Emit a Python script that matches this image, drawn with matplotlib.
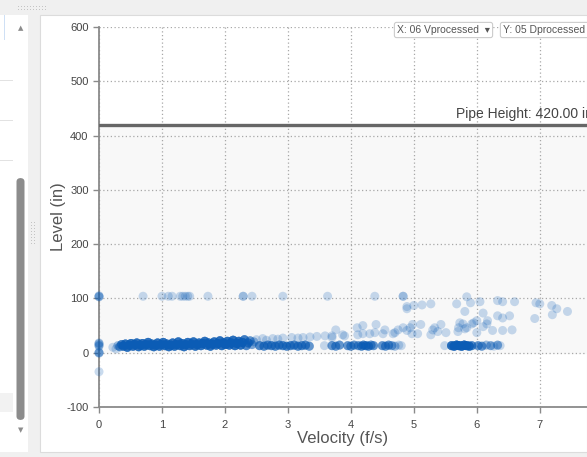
import matplotlib
matplotlib.use("Agg")
import matplotlib.pyplot as plt
from matplotlib.patches import Rectangle, FancyBboxPatch
import numpy as np

plt.rcParams['font.family'] = ['Liberation Sans', 'DejaVu Sans']
plt.rcParams['axes.unicode_minus'] = False

# readings stuck at zero velocity
edge_vel = [0.0, 0.0, 0.0, 0.0, 0.0, 0.0, 0.0, 0.0, 0.0, 0.0, 0.0, 0.0, 0.0, 0.0, 0.0]
edge_lvl = [103, 103, 105, 104, 17, 16, 18, 13, 12, 14, 0, 1, -1, 0, -35]

# main low-flow band (many repeated readings)
band_vel = [0.22, 0.27, 0.30, 0.33, 0.36, 0.39, 0.42, 0.45, 0.48, 0.51, 0.54, 0.57,
            0.60, 0.63, 0.66, 0.69, 0.72, 0.75, 0.78, 0.81, 0.84, 0.87, 0.90, 0.93,
            0.96, 0.99, 1.02, 1.05, 1.08, 1.11, 1.14, 1.17, 1.20, 1.23, 1.26, 1.29,
            1.32, 1.35, 1.38, 1.41, 1.44, 1.47, 1.50, 1.53, 1.56, 1.59, 1.62, 1.65,
            1.68, 1.71, 1.74, 1.77, 1.80, 1.83, 1.86, 1.89, 1.92, 1.95, 1.98, 2.01,
            2.04, 2.07, 2.10, 2.13, 2.16, 2.19, 2.22, 2.25, 2.28, 2.31, 2.34, 2.37,
            2.40, 2.43, 2.46]
band_lvl = [10, 7, 13, 11, 15, 12, 16, 10, 14, 17, 12, 15,
            18, 11, 14, 17, 12, 15, 19, 13, 16, 11, 14, 18,
            12, 15, 19, 13, 16, 11, 14, 18, 12, 15, 20, 13,
            17, 11, 15, 19, 13, 16, 20, 12, 15, 18, 13, 17,
            21, 14, 18, 12, 16, 20, 14, 17, 22, 13, 18, 15,
            21, 14, 18, 23, 13, 17, 21, 14, 19, 24, 13, 18,
            22, 15, 20]
band_cnt = [1, 1, 2, 4, 6, 7, 8, 8, 8, 8, 8, 8,
            8, 8, 8, 8, 8, 8, 8, 8, 8, 8, 8, 8,
            8, 8, 8, 8, 8, 8, 8, 8, 8, 8, 8, 8,
            8, 8, 8, 8, 8, 8, 8, 8, 8, 8, 8, 8,
            8, 8, 8, 8, 8, 8, 8, 8, 8, 8, 8, 8,
            8, 8, 8, 8, 8, 8, 8, 8, 7, 6, 5, 5,
            4, 3, 2]

# lower row continuing to higher velocities
low_vel = [2.55, 2.62, 2.68, 2.74, 2.80, 2.86, 2.92, 2.98, 3.04, 3.10, 3.16, 3.22,
           3.28, 3.34, 3.58, 3.70, 3.76, 3.82, 3.95, 4.00, 4.05, 4.12, 4.17, 4.20,
           4.24, 4.28, 4.32, 4.36, 4.50, 4.55, 4.60, 4.65, 4.70, 4.76, 4.80, 5.49,
           5.60, 5.64, 5.68, 5.72, 5.76, 5.80, 5.84, 5.88, 5.92, 6.02, 6.08, 6.15,
           6.22, 6.27, 6.33, 6.37]
low_lvl = [13, 12, 14, 13, 12, 14, 13, 12, 13, 14, 12, 13,
           14, 12, 13, 13, 12, 14, 13, 12, 14, 13, 12, 14,
           13, 12, 14, 13, 13, 12, 14, 13, 12, 14, 13, 13,
           13, 12, 14, 13, 12, 14, 13, 12, 13, 13, 12, 14,
           13, 12, 14, 13]
low_cnt = [5, 5, 5, 5, 5, 5, 5, 5, 5, 5, 5, 5,
           5, 4, 1, 4, 4, 4, 4, 4, 4, 4, 5, 5,
           5, 5, 4, 4, 4, 4, 4, 3, 2, 1, 1, 1,
           8, 9, 10, 10, 10, 10, 9, 8, 5, 4, 4, 2,
           3, 1, 3, 1]

# rising upper row
mid_vel = [2.50, 2.60, 2.66, 2.76, 2.84, 2.92, 3.06, 3.16, 3.24, 3.35, 3.46, 3.59,
           3.70, 3.70, 3.76, 3.87, 3.90, 4.10, 4.11, 4.19, 4.19, 4.30, 4.38, 4.40,
           4.51, 4.54, 4.67, 4.70, 4.75, 4.83, 4.89, 4.94, 4.97, 4.98, 5.06, 5.11,
           5.27, 5.30, 5.33, 5.38, 5.43, 5.51, 5.70, 5.71, 5.73, 5.78, 5.81, 5.84,
           5.92, 5.95, 6.00, 6.00, 6.10, 6.16, 6.17, 6.25, 6.41, 6.56, 6.33, 6.41,
           6.52, 6.92, 7.20, 4.89, 4.89, 5.00, 5.13, 5.27, 5.68, 5.81, 5.90, 6.05,
           6.10, 6.33, 6.41, 6.60, 6.94, 7.00, 7.19, 7.27, 7.44]
mid_lvl = [24, 26, 23, 26, 25, 27, 28, 27, 28, 29, 30, 31,
           31, 28, 42, 33, 31, 46, 33, 50, 35, 35, 37, 52,
           35, 42, 35, 37, 42, 46, 41, 46, 35, 52, 35, 52,
           33, 42, 46, 39, 52, 37, 39, 46, 55, 53, 44, 46,
           53, 55, 59, 37, 48, 53, 59, 41, 41, 42, 68, 64,
           68, 63, 70, 81, 85, 87, 88, 90, 90, 76, 92, 94,
           73, 96, 94, 94, 92, 90, 87, 81, 76]

# readings near the 100 in mark
top_vel = [0.70, 1.00, 1.10, 1.16, 1.29, 1.33, 1.37, 1.41, 1.44, 1.73, 2.29, 2.29,
           2.43, 2.92, 3.63, 4.38, 4.83, 4.83, 5.84]
top_lvl = [104, 104, 104, 104, 104, 104, 104, 104, 104, 104, 104, 104,
           104, 104, 104, 104, 104, 104, 103]

pipe_height = 420.0
x_ticks = [0, 1, 2, 3, 4, 5, 6, 7]
y_ticks = [-100, 0, 100, 200, 300, 400, 500, 600]

W, H = 587, 457


def box(fig, x0, y0, x1, y1, **kw):
    """rectangle given in screen pixels (top-left origin), drawn behind the axes"""
    fig.patches.append(Rectangle((x0 / W, 1 - y1 / H), (x1 - x0) / W, (y1 - y0) / H,
                                 transform=fig.transFigure, figure=fig, zorder=-10, **kw))


fig = plt.figure(figsize=(W / 100, H / 100), dpi=100, facecolor='#f0f0f0')

# window chrome
box(fig, 0, 15, 28, 452, facecolor='white', edgecolor='none')
for yy in [80, 120, 160]:
    box(fig, 0, yy, 13, yy + 1, facecolor='#e2e2e2', edgecolor='none')
box(fig, 0, 393, 13, 412, facecolor='#f2f2f2', edgecolor='none')
box(fig, 4, 15, 5, 40, facecolor='#cfe0f5', edgecolor='none')
fig.patches.append(FancyBboxPatch((16.5 / W, 1 - 420 / H), 8 / W, 242 / H,
                                  boxstyle='round,pad=0,rounding_size=0.008',
                                  transform=fig.transFigure, figure=fig, zorder=-5,
                                  facecolor='#8c8c8c', edgecolor='none'))
fig.text(21 / W, 1 - 28 / H, '\u25b2', fontsize=5, color='#8c8c8c', ha='center', va='center',
         family=['DejaVu Sans'])
fig.text(21 / W, 1 - 430 / H, '\u25bc', fontsize=5, color='#8c8c8c', ha='center', va='center',
         family=['DejaVu Sans'])
box(fig, 40, 15, 587, 452, facecolor='white', edgecolor='#dcdcdc', linewidth=0.8)
for gx in range(18, 48, 3):
    for gy in (6, 9):
        box(fig, gx, gy, gx + 1, gy + 1, facecolor='#c4c4c4', edgecolor='none')
for gx in (31, 34):
    for gy in range(222, 246, 3):
        box(fig, gx, gy, gx + 1, gy + 1, facecolor='#c4c4c4', edgecolor='none')

ax = fig.add_axes([99 / W, 1 - 407 / H, 488 / W, 380 / H])
ax.set_facecolor('none')

ax.axhspan(0, pipe_height, color='#f8f8f8', zorder=0)

vel = np.concatenate([edge_vel, np.repeat(band_vel, band_cnt), np.repeat(low_vel, low_cnt),
                      mid_vel, top_vel])
lvl = np.concatenate([edge_lvl, np.repeat(band_lvl, band_cnt), np.repeat(low_lvl, low_cnt),
                      mid_lvl, top_lvl])
ax.scatter(vel, lvl, s=42, color='#0b5cb5', alpha=0.22, edgecolors='none', zorder=3,
           clip_on=False)

ax.axhline(pipe_height, color='#666666', linewidth=2.4, zorder=4)
ax.text(5.67, pipe_height + 7, 'Pipe Height: 420.00 in', ha='left', va='bottom',
        fontsize=10, color='#444444', clip_on=False)

ax.set_xlim(0, 7.75)
ax.set_ylim(-100, 600)
ax.set_xticks(x_ticks)
ax.set_yticks(y_ticks)
ax.grid(True, color='#a8a8a8', linestyle=(0, (1, 2)), linewidth=0.9, zorder=1)
ax.set_axisbelow(True)
for side in ['top', 'right']:
    ax.spines[side].set_visible(False)
for side in ['left', 'bottom']:
    ax.spines[side].set_color('#8a8a8a')
    ax.spines[side].set_linewidth(1.3)
ax.tick_params(colors='#8a8a8a', labelcolor='#444444', labelsize=8, length=4, width=1)
ax.tick_params(axis='x', pad=5)
ax.set_xlabel('Velocity (f/s)', fontsize=12, color='#555555', labelpad=1)
ax.set_ylabel('Level (in)', fontsize=12, color='#555555', labelpad=0)

# column selectors
fig.text(397 / W, 1 - 30 / H, 'X: 06 Vprocessed  \u25be', fontsize=7.5, color='#555555',
         va='center', ha='left',
         bbox=dict(boxstyle='round,pad=0.25,rounding_size=0.2', facecolor='white',
                   edgecolor='#cccccc', linewidth=0.8))
fig.text(503 / W, 1 - 30 / H, 'Y: 05 Dprocessed      ', fontsize=7.5, color='#555555',
         va='center', ha='left',
         bbox=dict(boxstyle='round,pad=0.25,rounding_size=0.2', facecolor='white',
                   edgecolor='#cccccc', linewidth=0.8))

fig.savefig('out.png', dpi=100, facecolor=fig.get_facecolor())
